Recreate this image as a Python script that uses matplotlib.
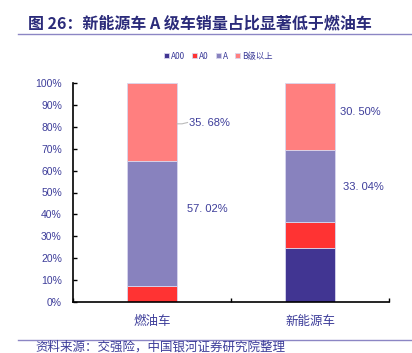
import numpy as np
import matplotlib
matplotlib.use("Agg")
import matplotlib.pyplot as plt

plt.rcParams['font.family'] = ['Noto Sans CJK SC', 'DejaVu Sans']

categories = ['燃油车', '新能源车']
series_names = ['A00', 'A0', 'A', 'B级以上']
a00 = [0.0, 24.70]
a0 = [7.30, 11.76]
a = [57.02, 33.04]
b_up = [35.68, 30.50]
colors = ['#413592', '#FF3333', '#8882BE', '#FF7F7F']
yticks = list(range(0, 101, 10))

txt_color = '#3D3D9A'

fig = plt.figure(figsize=(4.12, 3.53), dpi=100)
ax = fig.add_axes([73 / 412, 1 - 302 / 353, 316 / 412, 219 / 353])

x = np.arange(len(categories))
bottom = np.zeros(len(categories))
data = [a00, a0, a, b_up]
for vals, name, c in zip(data, series_names, colors):
    ax.bar(x, vals, width=0.32, bottom=bottom, color=c, label=name,
           edgecolor='#D8D6EE', linewidth=0.6)
    bottom += np.array(vals)

ax.set_xlim(-0.5, 1.5)
ax.set_ylim(0, 100)
ax.set_yticks(yticks)
ax.set_yticklabels([f'{t}%' for t in yticks], fontsize=7.5, color=txt_color,
                   family=['Liberation Sans', 'DejaVu Sans'])
ax.set_xticks(x)
ax.set_xticklabels(categories, fontsize=9, color=txt_color)
ax.tick_params(axis='x', length=0, pad=9)
ax.set_xticks([-0.5, 0.5, 1.5], minor=True)
ax.tick_params(axis='x', which='minor', direction='in', length=3, width=1)
ax.tick_params(axis='y', direction='in', length=3, width=1, pad=8)
for s in ['top', 'right']:
    ax.spines[s].set_visible(False)
for s in ['left', 'bottom']:
    ax.spines[s].set_linewidth(1.2)

lab_font = dict(fontsize=8, color=txt_color, family=['Liberation Sans', 'DejaVu Sans'])
# 燃油车 labels
y_b0 = a00[0] + a0[0] + a[0] + b_up[0] / 2
ax.plot([0.16, 0.19, 0.225], [y_b0 - 0.8, y_b0 - 0.8, y_b0 - 0.2], color='#BBBBBB', lw=0.8)
ax.text(0.235, y_b0 - 0.2, f'{b_up[0]:.2f}%'.replace('.', '. '), va='center', **lab_font)
y_a0 = a00[0] + a0[0] + a[0] / 2
ax.text(0.22, y_a0 + 6.7, f'{a[0]:.2f}%'.replace('.', '. '), va='center', **lab_font)
# 新能源车 labels
y_b1 = a00[1] + a0[1] + a[1] + b_up[1] / 2
ax.text(1.19, y_b1 + 2, f'{b_up[1]:.2f}%'.replace('.', '. '), va='center', **lab_font)
y_a1 = a00[1] + a0[1] + a[1] / 2
ax.text(1.21, y_a1 - 0.5, f'{a[1]:.2f}%'.replace('.', '. '), va='center', **lab_font)

leg = ax.legend(loc='center', bbox_to_anchor=(0.46, 1.123), ncol=4, frameon=False,
                fontsize=6, handlelength=0.6, handleheight=0.6, handletextpad=0.3,
                columnspacing=0.8, labelcolor=txt_color)

fig.text(28 / 412, 1 - 23 / 353, '图 26：新能源车 A 级车销量占比显著低于燃油车',
         fontsize=11.5, fontweight='bold', color='#2B2B7A', va='center')
fig.add_artist(plt.Line2D([18 / 412, 1], [1 - 34 / 353] * 2, color='#8C86C4', lw=1))
fig.add_artist(plt.Line2D([18 / 412, 1], [1 - 340 / 353] * 2, color='#8C86C4', lw=1))
fig.text(35 / 412, 1 - 347 / 353, '资料来源：交强险，中国银河证券研究院整理',
         fontsize=9, style='italic', color=txt_color, va='center')

fig.savefig('out.png', dpi=100)
